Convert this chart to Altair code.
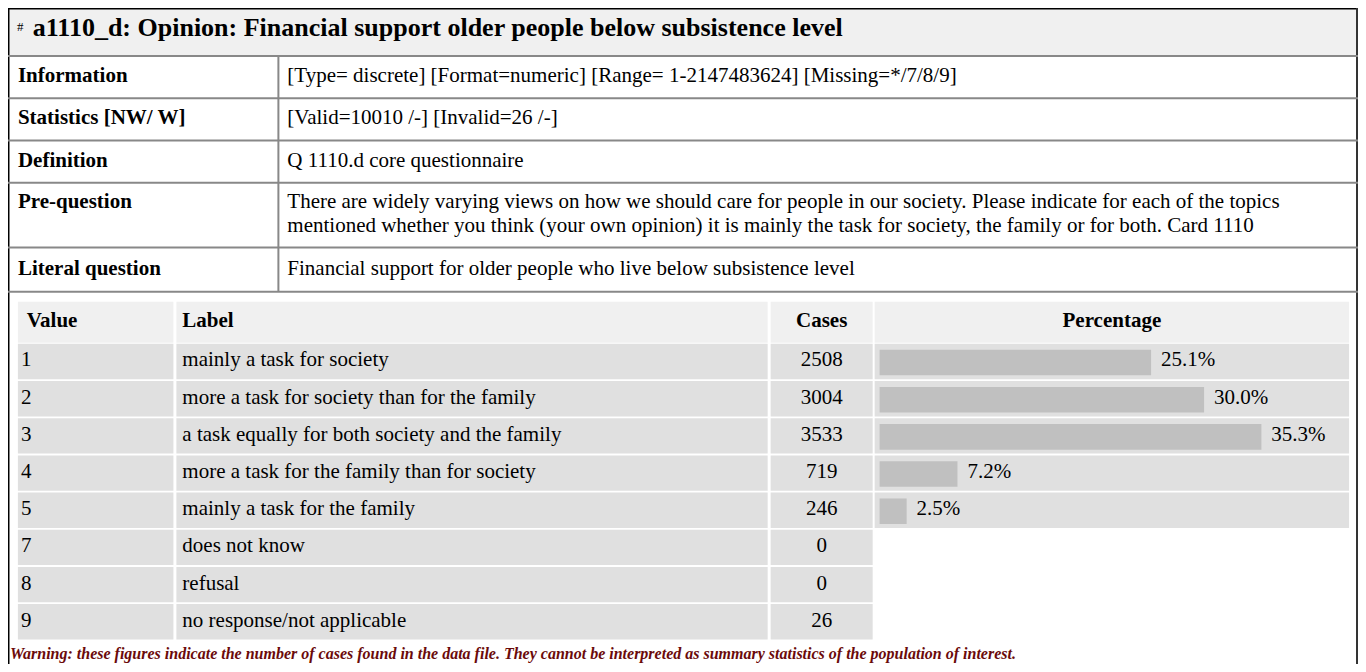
import altair as alt
import pandas as pd

# ---------------- data ----------------
title_hash = "#"
title_text = "a1110_d: Opinion: Financial support older people below subsistence level"
info_labels = ["Information", "Statistics [NW/ W]", "Definition", "Pre-question", "Literal question"]
info_lines = [
    ["[Type= discrete] [Format=numeric] [Range= 1-2147483624] [Missing=*/7/8/9]"],
    ["[Valid=10010 /-] [Invalid=26 /-]"],
    ["Q 1110.d core questionnaire"],
    ["There are widely varying views on how we should care for people in our society. Please indicate for each of the topics",
     "mentioned whether you think (your own opinion) it is mainly the task for society, the family or for both. Card 1110"],
    ["Financial support for older people who live below subsistence level"],
]
col_headers = ["Value", "Label", "Cases", "Percentage"]
values = ["1", "2", "3", "4", "5", "7", "8", "9"]
labels = [
    "mainly a task for society",
    "more a task for society than for the family",
    "a task equally for both society and the family",
    "more a task for the family than for society",
    "mainly a task for the family",
    "does not know",
    "refusal",
    "no response/not applicable",
]
cases = [2508, 3004, 3533, 719, 246, 0, 0, 26]
percents = [25.1, 30.0, 35.3, 7.2, 2.5]
warning_text = ("Warning: these figures indicate the number of cases found in the data file. "
                "They cannot be interpreted as summary statistics of the population of interest.")

# ---------------- layout (reference pixel grid) ----------------
FONT = "Liberation Serif"
W, H = 1350, 656
REF_X = [3, 1366]
REF_Y = [4, 672]
SX = W / (REF_X[1] - REF_X[0])
xs = alt.Scale(domain=REF_X, range=[0, W])
ys = alt.Scale(domain=REF_Y, range=[0, H])

info_bounds = [53, 96, 139, 182, 248, 293]
info_div = 276
hdr_top, hdr_bot = 303, 345
row_top0, row_pitch, row_h = 346, 37.86, 36
cols = [(13, 170), (173, 770), (773, 876), (878, 1357)]
bar_x0, px_per_pct = 883, 10.92

# cells
cells = [dict(x=3, x2=1366, y=4, y2=53, fill="#f0f0f0")]
for (a, b) in cols:
    cells.append(dict(x=a, x2=b, y=hdr_top, y2=hdr_bot, fill="#f0f0f0"))
for i in range(len(values)):
    t = row_top0 + i * row_pitch
    for k, (a, b) in enumerate(cols):
        if k == 3 and i >= len(percents):
            continue
        cells.append(dict(x=a, x2=b, y=t, y2=t + row_h, fill="#e0e0e0"))
cells_df = pd.DataFrame(cells)

# borders
rules = [
    dict(x=3, x2=1366, y=4.5, y2=4.5, c="#000000", w=2),
    dict(x=3.5, x2=3.5, y=4, y2=672, c="#000000", w=2),
    dict(x=1365, x2=1365, y=4, y2=672, c="#333333", w=2),
]
for yb in info_bounds:
    rules.append(dict(x=3, x2=1366, y=yb, y2=yb, c="#888888", w=2))
rules.append(dict(x=info_div, x2=info_div, y=info_bounds[0], y2=info_bounds[-1], c="#888888", w=2))
rules_df = pd.DataFrame(rules)

# text tables
bold_left, reg_left, bold_center, reg_center = [], [], [], []
centers = [(info_bounds[i] + info_bounds[i + 1]) / 2 for i in range(5)]
for i, lab in enumerate(info_labels):
    lines = info_lines[i]
    if len(lines) == 1:
        bold_left.append(dict(x=13, y=centers[i] + 5, t=lab))
        reg_left.append(dict(x=285, y=centers[i] + 5, t=lines[0]))
    else:
        base = centers[i] + 5 - 12 * (len(lines) - 1)
        bold_left.append(dict(x=13, y=base, t=lab))
        for j, ln in enumerate(lines):
            reg_left.append(dict(x=285, y=base + 24 * j, t=ln))
hb = (hdr_top + hdr_bot) / 2 + 5
bold_left.append(dict(x=22, y=hb, t=col_headers[0]))
bold_left.append(dict(x=179, y=hb, t=col_headers[1]))
bold_center.append(dict(x=(cols[2][0] + cols[2][1]) / 2, y=hb, t=col_headers[2]))
bold_center.append(dict(x=(cols[3][0] + cols[3][1]) / 2, y=hb, t=col_headers[3]))
for i in range(len(values)):
    yb = row_top0 + i * row_pitch + row_h / 2 + 5
    reg_left.append(dict(x=16, y=yb, t=values[i]))
    reg_left.append(dict(x=179, y=yb, t=labels[i]))
    reg_center.append(dict(x=(cols[2][0] + cols[2][1]) / 2, y=yb, t=str(cases[i])))

bars_df = pd.DataFrame([
    dict(pct=p, zero=0, y=row_top0 + i * row_pitch + 6, y2=row_top0 + i * row_pitch + 32,
         yt=row_top0 + i * row_pitch + row_h / 2 + 5, t=f"{p:.1f}%")
    for i, p in enumerate(percents)
])
pct_scale = alt.Scale(domain=[0, 100],
                      range=[(bar_x0 - REF_X[0]) * SX, (bar_x0 - REF_X[0] + 100 * px_per_pct) * SX])

X = lambda f="x": alt.X(f"{f}:Q", scale=xs, axis=None)
Y = lambda f="y": alt.Y(f"{f}:Q", scale=ys, axis=None)


def text_layer(rows, size, weight="normal", style="normal", align="left", color="#000000"):
    return alt.Chart(pd.DataFrame(rows)).mark_text(
        font=FONT, fontSize=size, fontWeight=weight, fontStyle=style,
        align=align, baseline="alphabetic", color=color
    ).encode(x=X(), y=Y(), text="t:N")


cells_layer = alt.Chart(cells_df).mark_rect().encode(
    x=X(), x2="x2:Q", y=Y(), y2="y2:Q", color=alt.Color("fill:N", scale=None))
rules_layer = alt.Chart(rules_df).mark_rule().encode(
    x=X(), x2="x2:Q", y=Y(), y2="y2:Q",
    color=alt.Color("c:N", scale=None), strokeWidth=alt.StrokeWidth("w:Q", scale=None))
bars_layer = alt.Chart(bars_df).mark_rect(color="#c0c0c0").encode(
    x=alt.X("pct:Q", scale=pct_scale, axis=None), x2="zero:Q", y=Y(), y2="y2:Q")
pct_text = alt.Chart(bars_df).mark_text(
    font=FONT, fontSize=21, align="left", baseline="alphabetic", dx=10 * SX, color="#000000"
).encode(x=alt.X("pct:Q", scale=pct_scale, axis=None), y=Y("yt"), text="t:N")

layers = [
    cells_layer,
    rules_layer,
    bars_layer,
    pct_text,
    text_layer([dict(x=12, y=27, t=title_hash)], 13),
    text_layer([dict(x=28, y=33, t=title_text)], 26, weight="bold"),
    text_layer(bold_left, 21, weight="bold"),
    text_layer(reg_left, 21),
    text_layer(bold_center, 21, weight="bold", align="center"),
    text_layer(reg_center, 21, align="center"),
    text_layer([dict(x=5, y=667, t=warning_text)], 16, weight="bold", style="italic", color="#6b0a0a"),
]

chart = alt.layer(*layers).resolve_scale(x="independent", y="shared").properties(
    width=W, height=H, padding=0, autosize=alt.AutoSizeParams(type="none"), background="white"
).configure_view(stroke=None)

chart.save("out.html", embed_options={"renderer": "svg", "actions": False})
